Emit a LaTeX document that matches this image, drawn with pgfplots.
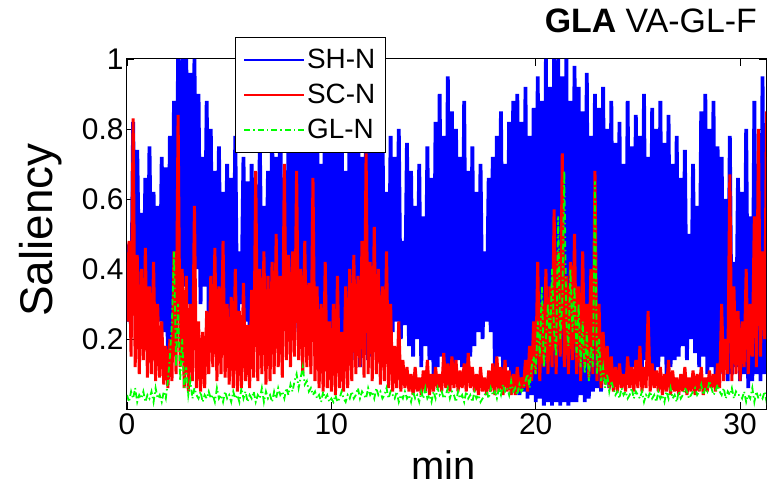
\documentclass[border=0pt]{standalone}
\usepackage{fontspec}
\setmainfont{Liberation Sans}
\usepackage{pgfplots}
\usepackage{pgfplotstable}
\pgfplotsset{compat=1.18}
\definecolor{mblue}{rgb}{0,0,1}
\definecolor{mred}{rgb}{1,0,0}
\definecolor{mgreen}{rgb}{0,1,0}

% SH-N (values in percent, one sample every 0.1 min)
\pgfplotstableread[row sep=\\, header=false]{
25\\47\\22\\82\\30\\74\\35\\56\\28\\66\\
24\\75\\30\\62\\20\\58\\25\\72\\22\\69\\
15\\78\\20\\88\\30\\100\\40\\100\\35\\100\\
30\\96\\25\\100\\40\\90\\30\\72\\35\\88\\
25\\80\\20\\68\\30\\75\\22\\62\\28\\70\\
20\\66\\25\\78\\18\\45\\30\\72\\25\\65\\
22\\70\\30\\64\\20\\76\\28\\58\\24\\68\\
20\\80\\25\\72\\30\\84\\22\\66\\26\\75\\
28\\85\\22\\90\\30\\78\\20\\82\\25\\88\\
24\\80\\30\\86\\22\\70\\28\\92\\20\\75\\
18\\88\\22\\76\\15\\82\\20\\68\\16\\85\\
14\\78\\18\\90\\12\\72\\16\\84\\14\\80\\
15\\86\\18\\75\\22\\82\\20\\62\\18\\78\\
22\\72\\25\\80\\20\\48\\24\\76\\18\\68\\
15\\58\\20\\70\\12\\55\\18\\75\\14\\66\\
10\\82\\12\\90\\15\\78\\10\\95\\12\\85\\
10\\80\\14\\72\\12\\88\\10\\68\\15\\75\\
18\\62\\22\\70\\20\\45\\25\\66\\22\\72\\
12\\78\\15\\85\\10\\70\\12\\82\\8\\88\\
6\\90\\4\\82\\5\\92\\3\\78\\4\\86\\
2\\95\\3\\88\\1\\100\\2\\92\\1\\100\\
2\\100\\1\\95\\2\\100\\1\\88\\2\\98\\
2\\92\\4\\85\\2\\96\\3\\78\\5\\90\\
6\\86\\5\\92\\8\\80\\6\\88\\8\\76\\
8\\82\\10\\70\\8\\88\\10\\75\\12\\84\\
12\\78\\10\\90\\14\\72\\12\\86\\10\\80\\
12\\88\\15\\76\\10\\84\\12\\70\\14\\78\\
15\\66\\18\\74\\14\\50\\20\\70\\16\\58\\
12\\85\\15\\90\\10\\80\\12\\88\\10\\75\\
10\\72\\12\\60\\8\\78\\10\\42\\12\\66\\
8\\62\\10\\80\\6\\55\\8\\88\\10\\70\\
8\\95\\10\\72\\8\\
}\shn

% SC-N
\pgfplotstableread[row sep=\\, header=false]{
25\\48\\15\\83\\12\\44\\10\\40\\14\\46\\
9\\35\\10\\42\\8\\30\\9\\25\\7\\18\\
6\\20\\8\\45\\10\\84\\12\\40\\6\\38\\
5\\30\\8\\58\\6\\25\\5\\22\\6\\28\\
10\\38\\12\\46\\8\\35\\10\\48\\9\\30\\
7\\32\\6\\40\\5\\28\\6\\36\\8\\24\\
6\\34\\9\\68\\8\\40\\10\\45\\7\\38\\
8\\42\\10\\50\\12\\38\\9\\70\\14\\44\\
12\\45\\15\\68\\14\\40\\10\\48\\12\\36\\
10\\66\\8\\35\\6\\30\\5\\42\\6\\25\\
5\\30\\4\\38\\6\\22\\5\\35\\6\\40\\
8\\44\\10\\38\\12\\48\\9\\73\\10\\42\\
8\\52\\10\\40\\7\\35\\8\\45\\6\\30\\
5\\18\\6\\25\\5\\14\\6\\12\\5\\10\\
4\\12\\5\\9\\4\\11\\5\\14\\4\\10\\
5\\12\\6\\10\\5\\16\\6\\13\\5\\15\\
6\\14\\5\\11\\6\\13\\5\\16\\6\\12\\
5\\10\\4\\12\\5\\9\\4\\11\\5\\13\\
4\\15\\5\\12\\4\\14\\5\\11\\4\\10\\
4\\12\\5\\9\\6\\14\\5\\18\\8\\25\\
10\\42\\8\\30\\12\\40\\10\\35\\12\\57\\
10\\45\\15\\73\\12\\38\\10\\42\\14\\50\\
10\\35\\8\\45\\12\\30\\9\\40\\10\\68\\
8\\30\\6\\22\\7\\18\\6\\15\\5\\12\\
5\\13\\6\\10\\5\\15\\6\\12\\5\\14\\
6\\18\\5\\12\\6\\28\\5\\13\\6\\11\\
5\\12\\4\\10\\5\\14\\4\\11\\5\\9\\
4\\10\\5\\12\\4\\9\\5\\11\\4\\10\\
5\\12\\4\\9\\5\\11\\6\\10\\5\\13\\
6\\30\\8\\20\\10\\67\\8\\35\\10\\28\\
8\\25\\12\\40\\10\\30\\15\\55\\12\\80\\
15\\45\\20\\85\\18\\
}\scn

% GL-N
\pgfplotstableread[row sep=\\, header=false]{
4\\2\\5\\3\\6\\2\\4\\3\\5\\2\\
4\\3\\5\\2\\6\\3\\4\\2\\5\\3\\
8\\15\\25\\45\\12\\30\\8\\20\\6\\12\\
4\\8\\3\\6\\4\\3\\5\\2\\4\\3\\
5\\3\\4\\2\\6\\3\\4\\2\\5\\3\\
4\\2\\5\\3\\4\\2\\6\\3\\5\\2\\
4\\3\\5\\2\\4\\3\\6\\2\\5\\3\\
4\\2\\5\\3\\6\\4\\5\\3\\6\\4\\
7\\5\\8\\10\\6\\9\\12\\7\\8\\5\\
6\\4\\5\\3\\4\\2\\5\\3\\4\\2\\
3\\2\\4\\2\\3\\5\\3\\2\\4\\3\\
5\\3\\4\\6\\3\\5\\4\\3\\6\\4\\
5\\3\\6\\4\\5\\3\\4\\6\\3\\5\\
4\\3\\5\\2\\4\\3\\5\\3\\4\\2\\
5\\3\\4\\2\\5\\3\\6\\3\\4\\2\\
5\\3\\6\\4\\5\\3\\4\\6\\3\\5\\
4\\2\\5\\3\\4\\2\\5\\3\\4\\2\\
5\\3\\4\\2\\3\\4\\5\\3\\6\\4\\
5\\3\\6\\4\\7\\5\\6\\4\\8\\5\\
6\\4\\7\\5\\6\\8\\10\\6\\12\\15\\
10\\25\\15\\35\\12\\20\\30\\18\\40\\22\\
15\\55\\20\\30\\68\\25\\18\\40\\22\\35\\
15\\30\\12\\25\\10\\22\\8\\18\\12\\65\\
10\\20\\8\\12\\6\\10\\5\\8\\6\\4\\
5\\3\\6\\4\\5\\3\\4\\6\\3\\5\\
4\\3\\5\\2\\4\\3\\5\\3\\4\\2\\
5\\3\\4\\2\\5\\3\\6\\3\\4\\2\\
5\\3\\4\\6\\5\\3\\4\\5\\6\\4\\
5\\7\\4\\6\\5\\8\\6\\4\\5\\7\\
5\\4\\6\\3\\5\\4\\6\\3\\5\\4\\
4\\3\\5\\2\\4\\3\\6\\2\\5\\3\\
4\\3\\5\\2\\4\\
}\gln

\begin{document}
\begin{tikzpicture}
\begin{axis}[
  scale only axis,
  width=639bp, height=350bp,
  xmin=0, xmax=31.27, ymin=0, ymax=1,
  xtick={0,10,20,30},
  ytick={0.2,0.4,0.6,0.8,1},
  yticklabels={0.2,0.4,0.6,0.8,1},
  tick align=inside,
  major tick length=7bp,
  xtick pos=both, ytick pos=both,
  axis line style={line width=1bp},
  every tick/.style={black, line width=0.8bp},
  /pgf/number format/assume math mode=true,
  tick label style={font=\fontsize{30}{32}\selectfont},
  xticklabel style={yshift=-1bp},
  xlabel={min},
  ylabel={Saliency},
  every axis x label/.style={at={(axis description cs:0.495,-0.2)}, anchor=base, inner sep=0pt, font=\fontsize{40}{42}\selectfont},
  every axis y label/.style={at={(axis description cs:-0.116,0.511)}, rotate=90, anchor=base, inner sep=0pt, font=\fontsize{46}{48}\selectfont},
  title={\textbf{GLA} VA-GL-F},
  title style={at={(axis description cs:0.986,1.06)}, anchor=base east, inner sep=0pt, font=\fontsize{34}{36}\selectfont},
  legend style={at={(axis description cs:0.169,1.063)}, anchor=north west,
    draw=black, line width=1bp, fill=white,
    font=\fontsize{28}{28}\selectfont,
    inner xsep=8bp, inner ysep=10bp, row sep=10bp,
    /tikz/every even column/.append style={column sep=9bp}},
  legend cell align=left,
  legend image code/.code={\draw[#1, line width=1.6bp] (0bp,0bp) -- (60bp,0bp);},
]
\addplot[mblue, line width=3.8bp, line join=bevel]
  table[x index=0, y index=0, x expr=\coordindex/10, y expr=\thisrowno{0}/100] {\shn};
\addplot[mred, line width=3bp, line join=bevel]
  table[x index=0, y index=0, x expr=\coordindex/10, y expr=\thisrowno{0}/100] {\scn};
\addplot[mgreen, line width=1.8bp, dash pattern=on 6bp off 3bp on 1.5bp off 3bp]
  table[x index=0, y index=0, x expr=\coordindex/10, y expr=\thisrowno{0}/100] {\gln};
\legend{SH-N, SC-N, GL-N}
\end{axis}
\pgfresetboundingbox
\path[use as bounding box] (-127bp,-79bp) rectangle (645bp,409bp);
\end{tikzpicture}
\end{document}
